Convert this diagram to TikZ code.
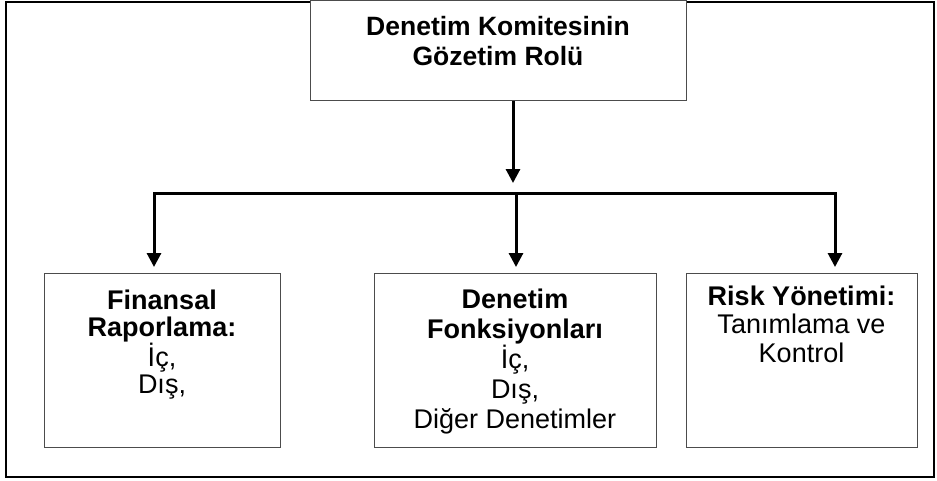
\documentclass[tikz,border=0pt]{standalone}
\usepackage{fontspec}
\setmainfont{Liberation Sans}
\usetikzlibrary{arrows.meta}
\begin{document}
\begin{tikzpicture}[x=1pt,y=-1pt,
  boxstyle/.style={draw=black!70, line width=1.2pt, fill=white, inner sep=0pt, anchor=north west},
  txt/.style={align=center, inner sep=0pt, font=\fontsize{27}{#1}\selectfont, anchor=north},
  txt/.default=28.5,
  headtxtstyle/.style={align=center, inner sep=0pt, font=\fontsize{26.5}{30}\selectfont, anchor=north},
  conn/.style={line width=3pt, black},
  arr/.style={conn, -{Triangle[width=14pt,length=14pt]}}]
\useasboundingbox (0,0) rectangle (937,480);
\node[draw, line width=2.2pt, minimum width=928pt, minimum height=475pt, anchor=north west, inner sep=0pt] (frame) at (5,1) {};
% boxes
\node[boxstyle, minimum width=376pt, minimum height=100pt] (head) at (310,0) {};
\node[boxstyle, minimum width=236pt, minimum height=174pt] (fin) at (44,273) {};
\node[boxstyle, minimum width=282pt, minimum height=174pt] (den) at (374,273) {};
\node[boxstyle, minimum width=231pt, minimum height=174pt] (risk) at (686,273) {};
% texts
\node[headtxtstyle] (headtxt) at (498,11) {\rule{0pt}{24pt}\textbf{Denetim Komitesinin}\\ \textbf{Gözetim Rolü}};
\node[txt=27] (fintxt) at (162,285) {\rule{0pt}{24pt}\textbf{Finansal}\\ \textbf{Raporlama:}\\ İç,\\ Dış,};
\node[txt=30] (dentxt) at (515,284) {\rule{0pt}{24pt}\textbf{Denetim}\\ \textbf{Fonksiyonları}\\ İç,\\ Dış,\\ Diğer Denetimler};
\node[txt=28.5] (risktxt) at (801.5,281) {\rule{0pt}{24pt}\textbf{Risk Yönetimi:}\\ Tanımlama ve\\ Kontrol};
% junctions
\coordinate (jT) at (513,193);
\coordinate (jL) at (154,193);
\coordinate (jM) at (516,193);
\coordinate (jR) at (835,193);
% connectors
\draw[arr, shorten >=10pt] (head.south -| jT) -- (jT);
\draw[conn, line cap=rect] (jL) -- (jR);
\draw[arr, shorten >=6pt] (jL) -- (jL |- fin.north);
\draw[arr, shorten >=6pt] (jM) -- (jM |- den.north);
\draw[arr, shorten >=6pt] (jR) -- (jR |- risk.north);
\end{tikzpicture}
\end{document}
